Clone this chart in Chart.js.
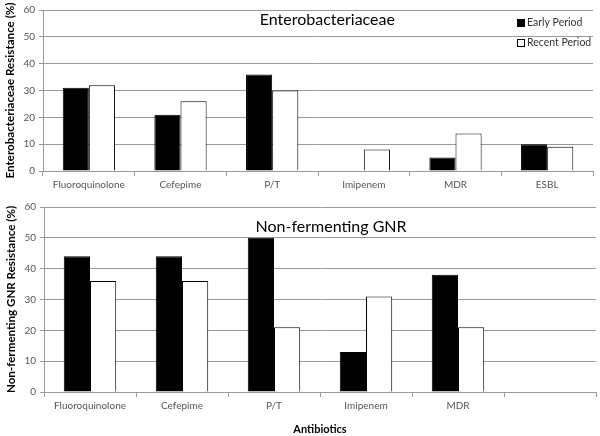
<!DOCTYPE html>
<html>
<head>
<meta charset="utf-8">
<script src="https://cdn.jsdelivr.net/npm/chart.js@4/dist/chart.umd.min.js"></script>
<style>
  html, body { margin: 0; padding: 0; background: #fff; }
  #wrap { position: relative; width: 600px; height: 436px; overflow: hidden; }
  .box { position: absolute; left: 0; width: 600px; }
</style>
</head>
<body>
<div id="wrap">
  <div class="box" style="top:0;height:196px;"><canvas id="c1" width="600" height="196"></canvas></div>
  <div class="box" style="top:196px;height:240px;"><canvas id="c2" width="600" height="240"></canvas></div>
</div>
<script>
// ---- data ----
const enteroCategories = ['Fluoroquinolone', 'Cefepime', 'P/T', 'Imipenem', 'MDR', 'ESBL'];
const enteroEarly  = [31, 21, 36, 0, 5, 10];
const enteroRecent = [32, 26, 30, 8, 14, 9];

const nfCategories = ['Fluoroquinolone', 'Cefepime', 'P/T', 'Imipenem', 'MDR', ''];
const nfEarly  = [44, 44, 50, 13, 38];
const nfRecent = [36, 36, 21, 31, 21];

const yTicks = [0, 10, 20, 30, 40, 50, 60];
const seriesNames = ['Early Period', 'Recent Period'];

const FONT = 'Lato, "Open Sans", "Noto Sans", sans-serif';
const TICK_COLOR = '#555';

// plugin: in-plot title + optional legend
const panelPlugin = {
  id: 'panel',
  afterDraw(chart, args, opts) {
    const ctx = chart.ctx;
    const ca = chart.chartArea;
    ctx.save();
    ctx.fillStyle = '#000';
    ctx.font = '16px ' + FONT;
    ctx.textAlign = 'center';
    ctx.textBaseline = 'middle';
    ctx.fillText(opts.title, ca.left + opts.titleX * (ca.right - ca.left), opts.titleY);
    if (opts.legend) {
      ctx.font = '10.5px ' + FONT;
      ctx.textAlign = 'left';
      chart.data.datasets.forEach((ds, i) => {
        const y = opts.legendY + i * 20;
        const x = opts.legendX;
        ctx.fillStyle = ds.backgroundColor;
        ctx.fillRect(x, y - 4, 8, 8);
        ctx.strokeStyle = '#000';
        ctx.lineWidth = 1;
        ctx.strokeRect(x + 0.5, y - 3.5, 7, 7);
        ctx.fillStyle = '#333';
        ctx.fillText(ds.label, x + 10, y);
      });
    }
    ctx.restore();
  }
};

function makeChart(id, cats, early, recent, yTitle, panelOpts, xTitle, xHeight, pad) {
  return new Chart(document.getElementById(id), {
    type: 'bar',
    data: {
      labels: cats,
      datasets: [
        { label: seriesNames[0], data: early, backgroundColor: '#000', borderColor: '#000', borderWidth: 1 },
        { label: seriesNames[1], data: recent, backgroundColor: '#fff', borderColor: '#000', borderWidth: 1 }
      ]
    },
    options: {
      responsive: false,
      animation: false,
      devicePixelRatio: 1,
      layout: { padding: pad },
      plugins: {
        legend: { display: false },
        tooltip: { enabled: false },
        panel: panelOpts
      },
      datasets: { bar: { categoryPercentage: 0.57, barPercentage: 1.0 } },
      scales: {
        x: {
          offset: true,
          grid: { offset: true, drawOnChartArea: false, drawTicks: true, tickLength: 5, color: '#999' },
          border: { display: true, color: '#999' },
          ticks: { color: TICK_COLOR, font: { family: FONT, size: 10 }, maxRotation: 0, padding: 3 },
          title: xTitle ? { display: true, text: xTitle, color: '#000', font: { family: FONT, size: 11, weight: 'bold' }, padding: 0 } : { display: false },
          afterFit(s) { s.height = xHeight; }
        },
        y: {
          min: 0, max: 60,
          afterBuildTicks(s) { s.ticks = yTicks.map(v => ({ value: v })); },
          grid: { color: '#999', tickLength: 4, lineWidth: 1 },
          border: { display: true, color: '#999' },
          ticks: { color: TICK_COLOR, font: { family: FONT, size: 10 }, padding: 4 },
          title: { display: true, text: yTitle, color: '#000', font: { family: FONT, size: 11.6, weight: 'bold' }, padding: { top: 3, bottom: 0 } },
          afterFit(s) { s.width = 43; }
        }
      }
    },
    plugins: [panelPlugin]
  });
}

makeChart('c1', enteroCategories, enteroEarly, enteroRecent,
  'Enterobacteriaceae Resistance (%)',
  { title: 'Enterobacteriaceae', titleX: 0.517, titleY: 20, legend: true, legendX: 517, legendY: 23 },
  null, 25, { left: 0, right: 7, top: 5, bottom: 0 });

makeChart('c2', nfCategories, nfEarly, nfRecent,
  'Non-fermenting GNR Resistance (%)',
  { title: 'Non-fermenting GNR', titleX: 0.52, titleY: 31, legend: false },
  'Antibiotics', 44, { left: 1, right: 4, top: 11, bottom: 0 });
</script>
</body>
</html>
